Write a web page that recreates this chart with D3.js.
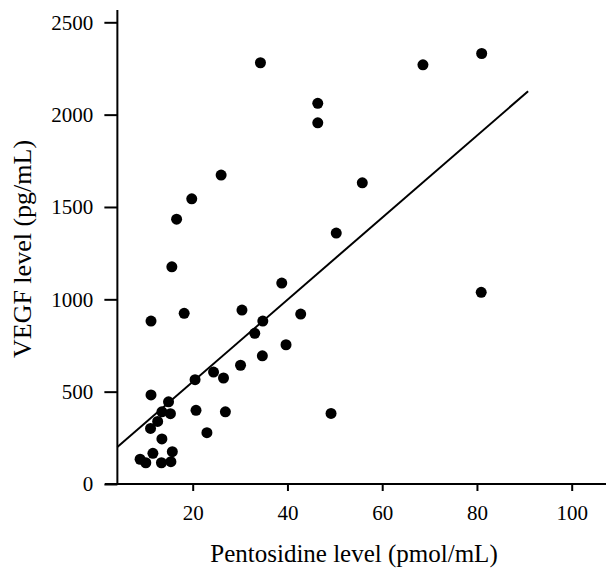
<!DOCTYPE html>
<html>
<head>
<meta charset="utf-8">
<script src="https://cdn.jsdelivr.net/npm/d3@7"></script>
<style>
  body { margin: 0; background: #fff; }
  text { font-family: "Liberation Serif", "Times New Roman", serif; fill: #000; }
</style>
</head>
<body>
<div id="chart"></div>
<script>
// pentosidine (pmol/mL) vs VEGF (pg/mL)
const pentosidine = [
  34.3, 46.4, 46.4, 68.6, 81.0, 80.9, 26.0, 19.8, 16.6, 15.6,
  55.8, 50.3, 38.8, 11.2, 18.2, 30.4, 34.8, 42.8, 33.1, 39.7,
  34.7, 30.1, 24.4, 26.5, 20.5, 11.2, 14.9, 13.5, 15.3, 20.7,
  26.9, 49.2, 12.6, 11.1, 13.5, 23.0, 11.6, 15.7, 8.9, 10.1,
  13.4, 15.4
];
const vegf = [
  2281, 2061, 1956, 2270, 2331, 1038, 1673, 1544, 1434, 1176,
  1631, 1359, 1088, 882, 924, 942, 882, 920, 816, 754,
  694, 643, 606, 574, 565, 482, 445, 391, 381, 399,
  391, 382, 339, 301, 244, 278, 166, 175, 134, 115,
  115, 121
];
const xTicks = [20, 40, 60, 80, 100];
const yTicks = [0, 500, 1000, 1500, 2000, 2500];
// fitted line shown in the figure: VEGF = a + b * pentosidine
const fitRange = [4.1, 90.8];
const fitIntercept = 109;
const fitSlope = 22.22;

const width = 606, height = 573;
const axisX = 4.1;   // where the y axis crosses, in pentosidine units

const svg = d3.select("#chart").append("svg")
  .attr("width", width)
  .attr("height", height);

const x = d3.scaleLinear().domain([0, 100]).range([97.95, 571.7]);
const y = d3.scaleLinear().domain([0, 2500]).range([484, 22.3]);

// x axis
const xAxis = svg.append("g")
  .attr("transform", `translate(0,${y(0)})`)
  .call(d3.axisBottom(x).tickValues(xTicks).tickFormat(d3.format("d"))
    .tickSize(7).tickPadding(14));
xAxis.select(".domain").remove();
xAxis.append("line")
  .attr("x1", 105).attr("x2", width)
  .attr("stroke", "#000").attr("stroke-width", 2);

// y axis
const yAxis = svg.append("g")
  .attr("transform", `translate(${x(axisX)},0)`)
  .call(d3.axisLeft(y).tickValues(yTicks).tickFormat(d3.format("d"))
    .tickSize(13).tickPadding(11));
yAxis.select(".domain").remove();
yAxis.append("line")
  .attr("y1", 10).attr("y2", y(0) + 1)
  .attr("stroke", "#000").attr("stroke-width", 2);

svg.selectAll(".tick line").attr("stroke", "#000").attr("stroke-width", 2);
svg.selectAll(".tick text").style("font-size", "21px");

// regression line
const line = d3.line()
  .x(d => x(d))
  .y(d => y(fitIntercept + fitSlope * d));
svg.append("path")
  .datum(fitRange)
  .attr("d", line)
  .attr("fill", "none")
  .attr("stroke", "#000")
  .attr("stroke-width", 2);

// points
svg.append("g")
  .selectAll("circle")
  .data(d3.range(pentosidine.length))
  .join("circle")
    .attr("cx", i => x(pentosidine[i]))
    .attr("cy", i => y(vegf[i]))
    .attr("r", 5.5)
    .attr("fill", "#000");

// titles
svg.append("text")
  .attr("x", 354).attr("y", 562)
  .attr("text-anchor", "middle")
  .style("font-size", "25px")
  .text("Pentosidine level (pmol/mL)");

svg.append("text")
  .attr("transform", "translate(31,249) rotate(-90)")
  .attr("text-anchor", "middle")
  .style("font-size", "26px")
  .text("VEGF level (pg/mL)");
</script>
</body>
</html>
